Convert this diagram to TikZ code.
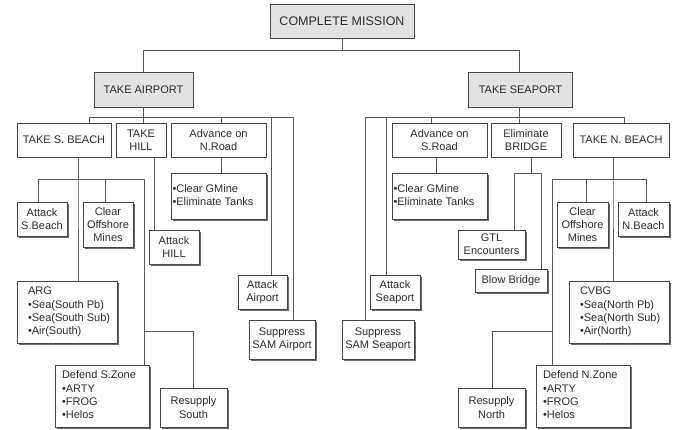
\documentclass[tikz,border=0pt]{standalone}
\usepackage{fontspec}
\setmainfont{Liberation Sans}
\usetikzlibrary{shadows}
\definecolor{edge}{HTML}{474747}
\definecolor{wire}{HTML}{5A5A5A}
\definecolor{txt}{HTML}{2E2E2E}
\definecolor{topfill}{HTML}{E2E2E2}
\definecolor{shade}{HTML}{6A6A6A}
\tikzset{
  box/.style={draw=edge, line width=0.9pt, fill=white, text=txt,
    font=\fontsize{11}{13.3}\selectfont, inner xsep=1pt, inner ysep=0pt,
    align=center, anchor=center},
  topbox/.style={box, fill=topfill},
  leaf/.style={box, drop shadow={shadow xshift=2pt, shadow yshift=-2pt,
    fill=shade, opacity=1}},
  listbox/.style={leaf, inner xsep=0pt},
  link/.style={draw=wire, line width=0.9pt},
}
% left-aligned block of lines in a box of width #1, indented by #2
\newcommand\listcell[3]{\makebox[#1][l]{\hspace*{#2}\begin{tabular}{@{}l@{}}#3\end{tabular}}}
\begin{document}
\begin{tikzpicture}[x=1pt,y=-1pt]
\fill[white] (0,0) rectangle (674,430);
\useasboundingbox (0,0) rectangle (674,430);

% bus heights
\coordinate (bus0) at (0,50);
\coordinate (busA) at (0,117);
\coordinate (busB) at (0,179);
\coordinate (busZ) at (0,331);
\coordinate (busR) at (0,173);

% top levels
\node[topbox, font=\fontsize{12.5}{15}\selectfont, minimum width=144pt, minimum height=34pt] (root) at (342,21) {COMPLETE MISSION};
\node[topbox, minimum width=99pt, minimum height=35pt] (airport) at (143.5,89.5) {TAKE AIRPORT};
\node[topbox, minimum width=104pt, minimum height=35pt] (seaport) at (520.5,89.5) {TAKE SEAPORT};

% airport branch
\node[box, minimum width=94pt, minimum height=34pt] (sbeach) at (64,140) {TAKE S. BEACH};
\node[box, minimum width=50pt, minimum height=34pt] (hill) at (141,140) {TAKE\\HILL};
\node[box, minimum width=95pt, minimum height=34pt] (nroad) at (218.5,140) {Advance on\\N.Road};

\node[leaf, minimum width=50pt, minimum height=34pt] (atksb) at (42,219) {Attack\\S.Beach};
\node[leaf, minimum width=50pt, minimum height=45pt] (clrS) at (108,224.5) {Clear\\Offshore\\Mines};
\node[listbox, minimum height=62pt] (arg) at (67,312) {\listcell{100pt}{11pt}{ARG\\•Sea(South Pb)\\•Sea(South Sub)\\•Air(South)}};
\node[listbox, minimum height=62pt] (defS) at (102,396) {\listcell{94pt}{7pt}{Defend S.Zone\\•ARTY\\•FROG\\•Helos}};
\node[leaf, minimum width=67pt, minimum height=39pt] (resS) at (193.5,407.5) {Resupply\\South};
\node[leaf, minimum width=50pt, minimum height=34pt] (atkhill) at (174,247) {Attack\\HILL};
\node[listbox, minimum height=46pt] (gmineN) at (218.5,196) {\listcell{95pt}{1.5pt}{•Clear GMine\\•Eliminate Tanks}};
\node[leaf, minimum width=49pt, minimum height=34pt] (atkair) at (262.5,292) {Attack\\Airport};
\node[leaf, minimum width=66pt, minimum height=39pt] (samair) at (282,339.5) {Suppress\\SAM Airport};

% seaport branch
\node[box, minimum width=95pt, minimum height=34pt] (sroad) at (439.5,140) {Advance on\\S.Road};
\node[box, minimum width=70pt, minimum height=34pt] (bridge) at (526,140) {Eliminate\\BRIDGE};
\node[box, minimum width=96pt, minimum height=34pt] (nbeach) at (621,140) {TAKE N. BEACH};

\node[leaf, minimum width=72pt, minimum height=39pt] (samsea) at (378,339.5) {Suppress\\SAM Seaport};
\node[leaf, minimum width=50pt, minimum height=34pt] (atksea) at (395,292) {Attack\\Seaport};
\node[listbox, minimum height=46pt] (gmineS) at (439.5,196) {\listcell{95pt}{1.5pt}{•Clear GMine\\•Eliminate Tanks}};
\node[leaf, minimum width=67pt, minimum height=29pt] (gtl) at (491.5,244.5) {GTL\\Encounters};
\node[leaf, minimum width=72pt, minimum height=23pt] (blow) at (511,280.5) {Blow Bridge};
\node[leaf, minimum width=51pt, minimum height=45pt] (clrN) at (582.5,224.5) {Clear\\Offshore\\Mines};
\node[leaf, minimum width=51pt, minimum height=34pt] (atkNB) at (643.5,219) {Attack\\N.Beach};
\node[listbox, minimum height=62pt] (cvbg) at (619,312) {\listcell{100pt}{11pt}{CVBG\\•Sea(North Pb)\\•Sea(North Sub)\\•Air(North)}};
\node[listbox, minimum height=62pt] (defN) at (583,396) {\listcell{94pt}{7pt}{Defend N.Zone\\•ARTY\\•FROG\\•Helos}};
\node[leaf, minimum width=67pt, minimum height=39pt] (resN) at (491.5,407.5) {Resupply\\North};

% connectors: each one drops to a bus line, runs along it and drops into its child
\draw[link] (root.south) |- (airport.north |- bus0) -- (airport.north);
\path ([xshift=-1.5pt]seaport.north) coordinate (sp-in);
\draw[link] (root.south) |- (sp-in |- bus0) -- (sp-in);

\foreach \n/\s in {sbeach/25, hill/2.5, nroad/2.5, atkair/8.5, samair/11}{
  \path ([xshift=\s pt]\n.north) coordinate (j);
  \draw[link] (airport.south) |- (j |- busA) -- (j);
}

\path ([xshift=-1.5pt]seaport.south) coordinate (sp-out);
\foreach \n/\s in {samsea/-13, atksea/-9, sroad/-8.5, bridge/-7, nbeach/3}{
  \path ([xshift=\s pt]\n.north) coordinate (j);
  \draw[link] (sp-out) |- (j |- busA) -- (j);
}

\path ([xshift=14pt]sbeach.south) coordinate (sb-out);
\foreach \n/\s in {arg/11, atksb/-4, clrS/-3, defS/42}{
  \path ([xshift=\s pt]\n.north) coordinate (j);
  \draw[link] (sb-out) |- (j |- busB) -- (j);
}
\path ([xshift=42pt]defS.north) coordinate (dz-s);
\draw[link] (dz-s |- busZ) -| ([xshift=-0.5pt]resS.north);

\draw[link] ([xshift=13pt]hill.south) -- ([xshift=-20pt]atkhill.north);
\draw[link] ([xshift=2.5pt]nroad.south) -- ([xshift=2.5pt]gmineN.north);
\draw[link] ([xshift=-3.5pt]sroad.south) -- ([xshift=-3.5pt]gmineS.north);

\path ([xshift=5pt]bridge.south) coordinate (br-out);
\foreach \n/\s in {gtl/22.5, blow/30}{
  \path ([xshift=\s pt]\n.north) coordinate (j);
  \draw[link] (br-out) |- (j |- busR) -- (j);
}

\path ([xshift=-8pt]nbeach.south) coordinate (nb-out);
\foreach \n/\s in {cvbg/-6, clrN/3.5, atkNB/2.5, defN/-31}{
  \path ([xshift=\s pt]\n.north) coordinate (j);
  \draw[link] (nb-out) |- (j |- busB) -- (j);
}
\path ([xshift=-31pt]defN.north) coordinate (dz-n);
\draw[link] (dz-n |- busZ) -| ([xshift=0.5pt]resN.north);
\end{tikzpicture}
\end{document}
